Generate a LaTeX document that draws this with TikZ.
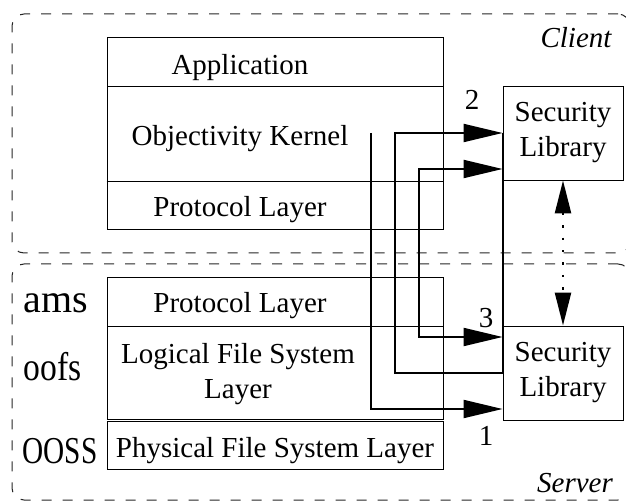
\documentclass[tikz,border=0pt]{standalone}
\usepackage{fontspec}
\setmainfont{Liberation Serif}
\usetikzlibrary{arrows.meta}
\begin{document}
\begin{tikzpicture}[x=1pt,y=-1pt,
  layerbox/.style={draw, line width=0.9pt, inner sep=0pt, minimum width=336pt},
  seclib/.style={draw, line width=0.9pt, inner sep=0pt, minimum width=120pt, minimum height=94pt, font=\fontsize{29}{35}\selectfont, align=center},
  txt/.style={font=\fontsize{29}{35}\selectfont, inner sep=0pt, anchor=base},
  numtxt/.style={font=\fontsize{29}{35}\selectfont, inner sep=0pt},
  big/.style={font=\fontsize{40}{48}\selectfont, inner sep=0pt, anchor=base},
  zone/.style={draw=black!85, line width=1pt, dash pattern=on 10pt off 11pt, rounded corners=12pt, inner sep=0pt},
  conn/.style={line width=2pt},
  tip/.style={-{Triangle[length=39pt,width=18pt]}},
  dots/.style={line width=2.4pt, dash pattern=on 2.4pt off 10pt, {Triangle[length=33pt,width=16pt]}-{Triangle[length=33pt,width=16pt]}}
]
\useasboundingbox (0,0) rectangle (626,502);
\clip (0,0) rectangle (626,502);

% zones
\node[zone, minimum width=618pt, minimum height=239pt] (client) at (321,133.5) {};
\node[zone, minimum width=618pt, minimum height=236pt] (server) at (321,382) {};
\node[font=\fontsize{29}{35}\selectfont\itshape, inner sep=0pt, anchor=base] (tclient) at (576,48) {Client};
\node[font=\fontsize{29}{35}\selectfont\itshape, inner sep=0pt, anchor=base] (tserver) at (575,492) {Server};

% client stack
\node[layerbox, minimum height=49pt] (app) at (275,61.5) {};
\node[layerbox, minimum height=95pt] (kern) at (275,133.5) {};
\node[layerbox, minimum height=48pt] (cproto) at (275,205) {};
\draw[line width=1.8pt] (kern.south west) -- (kern.south east);
\node[txt] (tapp) at (240,75) {Application};
\node[txt] (tkern) at (240,146) {Objectivity Kernel};
\node[txt] (tcproto) at (240,217) {Protocol Layer};

% server stack
\node[layerbox, minimum height=49pt] (sproto) at (275,301.5) {};
\node[layerbox, minimum height=93pt] (lfs) at (275,372.5) {};
\node[layerbox, minimum height=48pt] (pfs) at (275,445) {};
\node[txt] (tsproto) at (240,313) {Protocol Layer};
\node[font=\fontsize{29}{35}\selectfont, inner sep=0pt, align=center] (tlfs) at (238,374) {Logical File System\\Layer};
\node[txt] (tpfs) at (275,457) {Physical File System Layer};

% side labels
\node[big] (ams) at (56,313) {ams};
\node[big] (oofs) at (52.5,380) {\scalebox{0.84}[1]{oofs}};
\node[font=\fontsize{38}{46}\selectfont, inner sep=0pt, anchor=base] (ooss) at (60,463) {\scalebox{0.77}[1]{OOSS}};

% security libraries
\node[seclib] (csec) at (563,133) {Security\\Library};
\node[seclib] (ssec) at (563,373) {Security\\Library};

% connectors
\coordinate (kstart) at (371,133);
\draw[conn] (csec.west) -- (ssec.west);
\draw[conn,tip] (kstart) |- ([yshift=-36pt]ssec.west);
\draw[conn,tip] (ssec.west) -| ([xshift=-108pt]csec.west) -- (csec.west);
\draw[conn,{Triangle[length=39pt,width=18pt]}-{Triangle[length=39pt,width=18pt]}]
  ([yshift=-36pt]csec.west) -| ([xshift=-84pt,yshift=36pt]ssec.west) -- ([yshift=36pt]ssec.west);
\draw[dots] (csec.south) -- (ssec.north);

% numbers
\node[numtxt] (n2) at (472,100) {2};
\node[numtxt] (n3) at (486,318) {3};
\node[numtxt] (n1) at (486,436) {1};
\end{tikzpicture}
\end{document}
